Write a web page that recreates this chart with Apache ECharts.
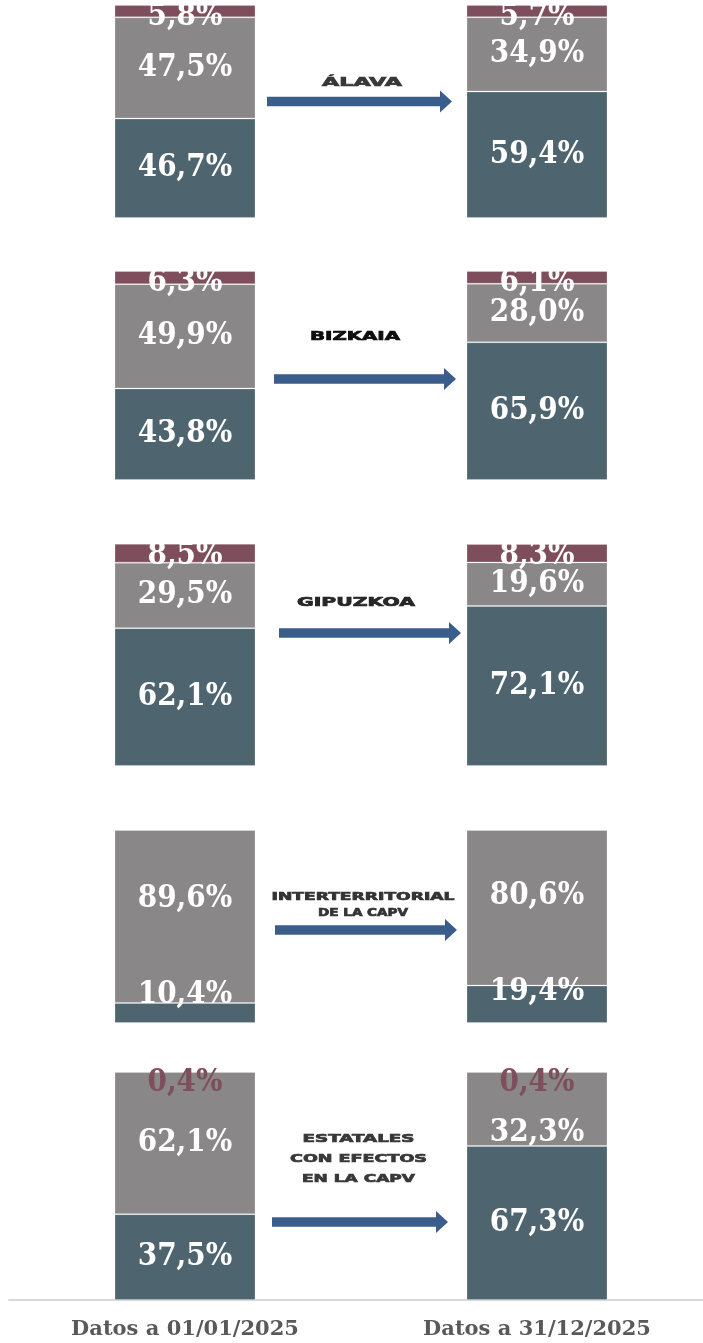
<!DOCTYPE html>
<html lang="es">
<head>
<meta charset="utf-8">
<title>Distribución por territorio</title>
<script src="https://cdn.jsdelivr.net/npm/echarts@6/dist/echarts.min.js"></script>
<style>
  html, body { margin: 0; padding: 0; background: #ffffff; }
  #chart { width: 703px; height: 1343px; }
</style>
</head>
<body>
<div id="chart"></div>
<script>
// Fechas de corte (eje de categorías común)
const categories = ['Datos a 01/01/2025', 'Datos a 31/12/2025'];

// Ámbitos representados, uno por panel
const scopes = ['ÁLAVA', 'BIZKAIA', 'GIPUZKOA', 'INTERTERRITORIAL\nDE LA CAPV', 'ESTATALES\nCON EFECTOS\nEN LA CAPV'];

// Cuotas (%) por ámbito: [01/01/2025, 31/12/2025]
const darkShare   = [[46.7, 59.4], [43.8, 65.9], [62.1, 72.1], [10.4, 19.4], [37.5, 67.3]];
const greyShare   = [[47.5, 34.9], [49.9, 28.0], [29.5, 19.6], [89.6, 80.6], [62.1, 32.3]];
const maroonShare = [[5.8, 5.7],   [6.3, 6.1],   [8.5, 8.3],   [null, null], [0.4, 0.4]];

// Colores
const C_DARK = '#4e6570';
const C_GREY = '#8a8788';
const C_MAROON = '#7f4e5c';
const C_ARROW = '#3a5d8c';

// Disposición de cada panel (píxeles)
const panels = [
  { top: 5,    height: 213, arrow: { x0: 267, x1: 452, y: 101.5 }, note: { cx: 362, cy: [82.5], w: [80], size: 12, color: '#383838' } },
  { top: 271,  height: 209, arrow: { x0: 274, x1: 456, y: 379 },   note: { cx: 355, cy: [336.5], w: [90], size: 12, color: '#0d0d0d' } },
  { top: 544,  height: 222, arrow: { x0: 279, x1: 461, y: 633 },   note: { cx: 356, cy: [603], w: [118], size: 12, color: '#262626' } },
  { top: 830,  height: 193, arrow: { x0: 275, x1: 457, y: 930 },   note: { cx: 363, cy: [896.7, 913.3], w: [183, 90], size: 11, color: '#333333' } },
  { top: 1071, height: 229, arrow: { x0: 272, x1: 448, y: 1222 },  note: { cx: 358.5, cy: [1139.5, 1159.5, 1179], w: [112, 137, 113], size: 11, color: '#383838' } }
];

// Desplazamientos verticales de etiquetas colocadas a mano (panel-serie-barra)
const labelNudge = {
  '3-dark-0': -18.5, '3-dark-1': -12,
  '3-grey-0': -17.5, '3-grey-1': -12,
  '4-grey-1': 24
};

const GRID_LEFT = 9;
const GRID_WIDTH = 704;
const BAR_WIDTH = 141;

const fmt = v => v.toFixed(1).replace('.', ',') + '%';

const valueFont = {
  fontFamily: '"DejaVu Serif Condensed", "DejaVu Serif"',
  fontWeight: 'bold',
  fontSize: 31
};

function seriesData(values, panelIdx, key) {
  return values.map((v, j) => {
    if (v === null) return null;
    const item = { value: v };
    const n = labelNudge[panelIdx + '-' + key + '-' + j];
    if (n !== undefined) item.label = { offset: [0, n] };
    if (key === 'maroon' && v < 1) item.label = Object.assign(item.label || {}, { color: C_MAROON });
    return item;
  });
}

const grid = [], xAxis = [], yAxis = [], series = [];
panels.forEach((p, i) => {
  grid.push({
    left: GRID_LEFT, width: GRID_WIDTH, top: p.top, height: p.height,
    outerBoundsMode: 'none', containLabel: false
  });
  const last = i === panels.length - 1;
  xAxis.push({
    type: 'category', gridIndex: i, data: categories, show: last,
    axisLine: { show: true, lineStyle: { color: '#d9d9d9', width: 2 } },
    axisTick: { show: false },
    axisLabel: { margin: 19, color: '#595959', fontFamily: 'DejaVu Serif', fontWeight: 'bold', fontSize: 21 }
  });
  yAxis.push({ type: 'value', gridIndex: i, min: 0, max: 100, show: false });

  const common = {
    type: 'bar', stack: 'panel' + i, xAxisIndex: i, yAxisIndex: i,
    barWidth: BAR_WIDTH, silent: true,
    itemStyle: { borderColor: 'rgba(255,255,255,0.22)', borderWidth: 1 }
  };
  series.push(Object.assign({}, common, {
    name: 'dark' + i, data: seriesData(darkShare[i], i, 'dark'),
    itemStyle: Object.assign({}, common.itemStyle, { color: C_DARK }),
    label: Object.assign({ show: true, position: 'inside', color: '#ffffff', formatter: q => fmt(q.value) }, valueFont)
  }));
  series.push(Object.assign({}, common, {
    name: 'grey' + i, data: seriesData(greyShare[i], i, 'grey'),
    itemStyle: Object.assign({}, common.itemStyle, { color: C_GREY }),
    label: Object.assign({ show: true, position: 'inside', color: '#ffffff', formatter: q => fmt(q.value) }, valueFont)
  }));
  series.push(Object.assign({}, common, {
    name: 'maroon' + i, data: seriesData(maroonShare[i], i, 'maroon'),
    itemStyle: Object.assign({}, common.itemStyle, { color: C_MAROON }),
    label: Object.assign({
      show: true, position: ['50%', 12], align: 'center', verticalAlign: 'middle',
      color: '#ffffff', formatter: q => fmt(q.value)
    }, valueFont)
  }));
});

// Flechas y rótulos entre las dos columnas de cada panel
const measureCtx = document.createElement('canvas').getContext('2d');
const graphic = [];
panels.forEach((p, i) => {
  const a = p.arrow;
  const head = 12, half = 4.7, headHalf = 11;
  graphic.push({
    type: 'polygon', silent: true,
    shape: { points: [
      [a.x0, a.y - half], [a.x1 - head, a.y - half], [a.x1 - head, a.y - headHalf],
      [a.x1, a.y], [a.x1 - head, a.y + headHalf], [a.x1 - head, a.y + half], [a.x0, a.y + half]
    ] },
    style: { fill: C_ARROW }
  });
  const lines = scopes[i].split('\n');
  const font = 'bold ' + p.note.size + 'px "DejaVu Sans"';
  measureCtx.font = font;
  lines.forEach((line, k) => {
    const sx = p.note.w[k] / measureCtx.measureText(line).width;
    graphic.push({
      type: 'text', silent: true,
      x: p.note.cx, y: p.note.cy[k], scaleX: sx,
      style: {
        text: line, fill: p.note.color,
        stroke: p.note.color, lineWidth: 0.7,
        font: font,
        align: 'center', verticalAlign: 'middle'
      }
    });
  });
});

const chart = echarts.init(document.getElementById('chart'));
chart.setOption({
  animation: false,
  backgroundColor: '#ffffff',
  grid, xAxis, yAxis, series, graphic
});
</script>
</body>
</html>
